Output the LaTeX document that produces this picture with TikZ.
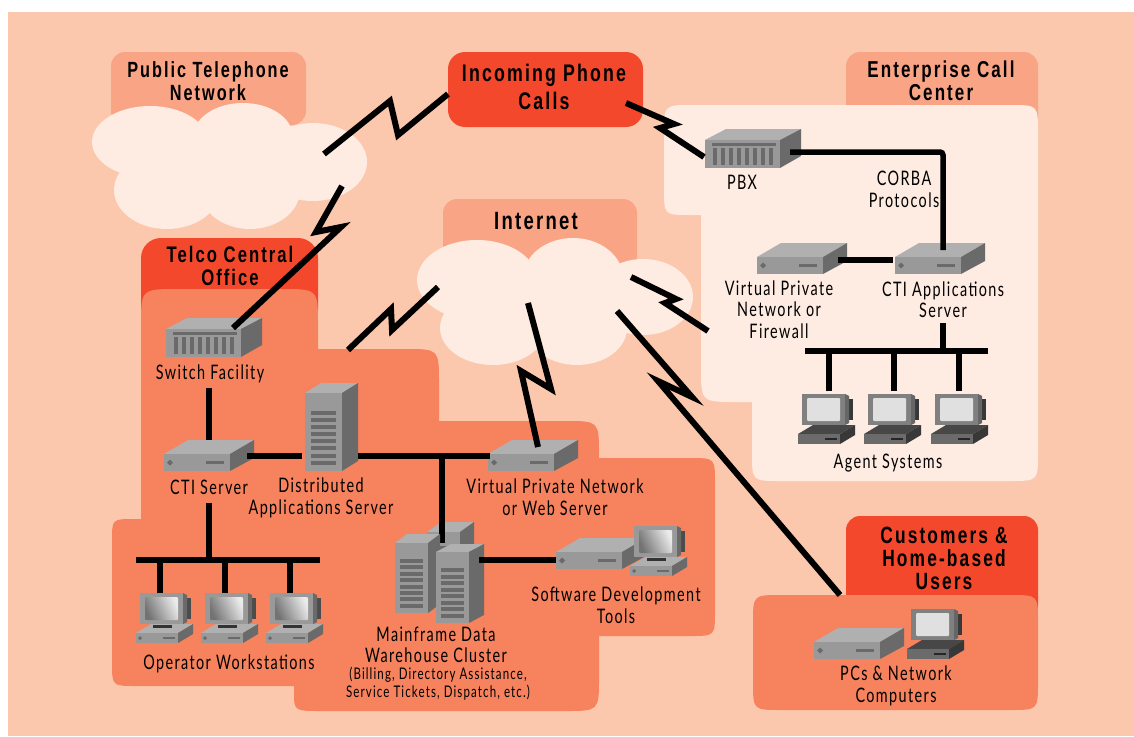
\documentclass[tikz,border=0pt]{standalone}
\usepackage{fontspec}
\setmainfont{Lato}
\newfontfamily\lblfont[FakeStretch=0.72,LetterSpace=7]{Lato}
\newfontfamily\ttlfont[FakeStretch=0.74,LetterSpace=9]{Liberation Sans}
\definecolor{bgpeach}{HTML}{FBC8AE}
\definecolor{tabpeach}{HTML}{FAA486}
\definecolor{hotred}{HTML}{F4482C}
\definecolor{salmon}{HTML}{F6825E}
\definecolor{cloudc}{HTML}{FEEBE1}
\definecolor{gtop}{HTML}{B0B0B0}
\definecolor{gfront}{HTML}{999999}
\definecolor{gside}{HTML}{6A6A6A}
\newcommand\ttlsz[1]{\ttlfont\bfseries\fontsize{#1}{23}\selectfont}
\tikzset{
  lbl/.style={font=\lblfont\fontsize{20}{21.5}\selectfont,align=center,inner sep=0pt,text=black},
  sublbl/.style={font=\lblfont\fontsize{16}{18}\selectfont,align=center,inner sep=0pt,text=black},
  ttl/.style={align=center,inner sep=0pt,text=black},
  wire/.style={line width=5.5pt,draw=black,line cap=butt,miter limit=20},
  bolt/.style={line width=6pt,draw=black,line join=miter,miter limit=20},
  devbox/.style={inner sep=0pt,outer sep=0pt,rectangle},
}
% server: name, x, y (top-left of front face)
\newcommand\srvbox[3]{\begin{scope}[shift={(#2,#3)}]
  \fill[gtop] (0,0)--(24,-14)--(90,-14)--(66,0)--cycle;
  \fill[gfront] (0,0) rectangle (66,17);
  \fill[gside] (66,0)--(90,-14)--(90,4)--(66,17)--cycle;
  \fill[gside] (6,5.5)--(9,8.5)--(6,11.5)--(3,8.5)--cycle;
  \fill[gside] (42,7) rectangle (60,10);
  \node[devbox,minimum width=90pt,minimum height=31pt] (#1) at (45,1.5) {};
\end{scope}}
% pbx
\newcommand\pbxbox[3]{\begin{scope}[shift={(#2,#3)}]
  \fill[gtop] (0,0)--(21,-11)--(96,-11)--(75,0)--cycle;
  \fill[gfront] (0,0) rectangle (75,28);
  \fill[gside] (75,0)--(96,-11)--(96,16)--(75,28)--cycle;
  \fill[gside] (7,2.5) rectangle (71,5.5);
  \foreach \i in {0,...,7} {\fill[gside] ({7.5+8.1*\i},8) rectangle ({11.5+8.1*\i},25);}
  \node[devbox,minimum width=96pt,minimum height=39pt] (#1) at (48,8.5) {};
\end{scope}}
% tower: name,x,y,w,h,dx,dy
\newcommand\twrbox[7]{\begin{scope}[shift={(#2,#3)}]
  \fill[gtop] (0,0)--(#6,-#7)--({#4+#6},-#7)--(#4,0)--cycle;
  \fill[gfront] (0,0) rectangle (#4,#5);
  \fill[gside] (#4,0)--({#4+#6},-#7)--({#4+#6},{#5-#7})--(#4,#5)--cycle;
  \foreach \i in {0,...,7} {\fill[gside] ({0.15*#4},{0.225*#5+0.092*#5*\i}) rectangle ({0.85*#4},{0.225*#5+0.092*#5*\i+4});}
  \node[devbox,minimum width={(#4+#6)*1pt},minimum height={(#5+#7)*1pt}] (#1) at ({(#4+#6)/2},{(#5-#7)/2}) {};
\end{scope}}
% light workstation
\newcommand\lightpc[3]{\begin{scope}[shift={(#2,#3)}]
  \fill[gtop] (-4,40)--(11,31)--(53,31)--(38,40)--cycle;
  \fill[gfront] (-4,40) rectangle (38,50);
  \fill[gside] (38,40)--(53,31)--(53,41)--(38,50)--cycle;
  \fill[gside] (0,43)--(2,45)--(0,47)--(-2,45)--cycle;
  \fill[gside] (23,44) rectangle (35,46);
  \fill[black!80] (13,32) rectangle (32,35);
  \fill[black!70] (47,5) rectangle (50.5,26);
  \fill[gside] (43,0)--(47,2)--(47,29)--(43,31)--cycle;
  \fill[gfront] (0,0) rectangle (43,31);
  \shade[left color=black!55,right color=black!8,rounded corners=1pt,shading angle=115] (5,4) rectangle (38,27);
  \node[devbox,minimum width=57pt,minimum height=50pt] (#1) at (24.5,25) {};
\end{scope}}
% dark workstation
\newcommand\darkpc[3]{\begin{scope}[shift={(#2,#3)}]
  \fill[black!72] (-4,40)--(11,31)--(53,31)--(38,40)--cycle;
  \fill[black!58] (-4,40) rectangle (38,50);
  \fill[black!78] (38,40)--(53,31)--(53,41)--(38,50)--cycle;
  \fill[black!85] (23,44) rectangle (35,46);
  \fill[black!72] (13,32) rectangle (32,35);
  \fill[black!78] (47,5) rectangle (50.5,26);
  \fill[black!60] (43,0)--(47,2)--(47,29)--(43,31)--cycle;
  \fill[black!50] (0,0) rectangle (43,31);
  \fill[black!12,rounded corners=1pt] (5,4) rectangle (38,27);
  \node[devbox,minimum width=57pt,minimum height=50pt] (#1) at (24.5,25) {};
\end{scope}}
\begin{document}
\begin{tikzpicture}[x=1pt,y=-1pt]
\useasboundingbox (0,0) rectangle (1134,736);
\fill[white] (0,0) rectangle (1134,736);
\fill[bgpeach] (8,12) rectangle (1134,736);

% tabs
\fill[tabpeach,rounded corners=14pt] (111,52) rectangle (306,125);
\fill[tabpeach,rounded corners=14pt] (443,199) rectangle (637,270);
\fill[tabpeach,rounded corners=14pt] (846,52) rectangle (1038,130);
\fill[hotred,rounded corners=20pt] (141,238) rectangle (318,330);
\fill[hotred,rounded corners=14pt] (846,516) rectangle (1038,620);

% clouds
\foreach \cx/\cy/\rx/\ry in {150/142/58/36,243/137/50/34,313/162/54/39,167/190/53/39,250/190/50/39,
  477/280/60/40,573/278/50/40,643/297/50/38,493/328/53/37,577/328/50/37}
  {\fill[cloudc] (\cx,\cy) ellipse [x radius=\rx,y radius=\ry];}
\fill[cloudc] (150,140) rectangle (300,195);
\fill[cloudc] (480,280) rectangle (620,330);

% enterprise region
\fill[cloudc] (664,133) .. controls (664,105) .. (692,105) -- (1010,105)
  .. controls (1038,105) .. (1038,133) -- (1038,453) .. controls (1038,481) .. (1010,481)
  -- (780,481) .. controls (752,481) .. (752,453) -- (752,402) -- (736,402)
  .. controls (701,402) .. (701,367) -- (701,215) -- (690,215)
  .. controls (664,215) .. (664,189) -- cycle;

% telco region
\fill[salmon] (141,326) .. controls (141,289) .. (178,289) -- (281,289)
  .. controls (318,289) .. (318,326) -- (318,349) -- (405,349)
  .. controls (439,349) .. (439,383) -- (439,421) -- (565,421)
  .. controls (599,421) .. (599,455) -- (599,458) -- (690,458)
  .. controls (715,458) .. (715,483) -- (715,611) .. controls (715,636) .. (690,636)
  -- (599,636) -- (599,677) .. controls (599,711) .. (565,711)
  -- (322,711) .. controls (294,711) .. (294,692) -- (294,686) -- (136,686)
  .. controls (112,686) .. (112,662) -- (112,541) .. controls (112,519) .. (134,519)
  -- (141,519) -- cycle;

% customers region
\fill[salmon] (753,623) .. controls (753,595) .. (781,595) -- (1010,595)
  .. controls (1038,595) .. (1038,623) -- (1038,682) .. controls (1038,710) .. (1010,710)
  -- (781,710) .. controls (753,710) .. (753,682) -- cycle;

% incoming
\node[fill=hotred,rounded corners=17pt,minimum width=195pt,minimum height=75pt,ttl,font=\ttlsz{24}] (incoming) at (545.5,89.5) {};
\node[ttl,font=\ttlsz{24}] (tincoming) at (544,87) {Incoming Phone\\[5pt]Calls};

% titles
\node[ttl,font=\ttlsz{22}] (tpublic) at (208,81.5) {Public Telephone\\Network};
\node[ttl,font=\ttlsz{23}] (tenter) at (941,80.5) {Enterprise Call\\Center};
\node[ttl,font=\ttlsz{22.5}] (ttelco) at (230,265.5) {Telco Central\\Office};
\node[ttl,font=\ttlsz{25}] (tnet) at (536,221) {Internet};
\node[ttl,font=\ttlsz{23.5}] (tcust) at (944,558) {Customers \&\\Home-based\\Users};

% devices
\pbxbox{sw}{166}{329}
\pbxbox{pbx}{705}{140}
\srvbox{cti}{164}{454}
\srvbox{fw}{757}{257}
\srvbox{ctiapp}{895}{257}
\srvbox{vpnweb}{488}{454}
\twrbox{das}{305}{393}{37}{78}{16}{10}
\twrbox{mfback}{427}{532}{33}{60}{14}{10}
\lightpc{op1}{140}{593}
\lightpc{op2}{205}{593}
\lightpc{op3}{270}{593}
\darkpc{ag1}{802}{394}
\darkpc{ag2}{868}{394}
\darkpc{ag3}{935}{394}
\coordinate (mfdrop) at (442,456);
\coordinate (mftop) at (442,543);
\draw[wire] (mfdrop) -- (mftop);
\twrbox{mfleft}{395}{543}{33}{70}{12}{9}
\twrbox{mfright}{436}{552}{33}{71}{15}{8}
\srvbox{dev}{556}{552}
\lightpc{devpc}{634}{526}
\srvbox{pc}{814}{642}
\darkpc{pcws}{911}{609}

% labels
\node[lbl] (lsw) at (210,373.5) {Switch Facility};
\node[lbl] (lpbx) at (742,182) {PBX};
\node[lbl] (lcorba) at (904,189.5) {CORBA\\Protocols};
\node[lbl] (lfw) at (779,309.5) {Virtual Private\\Network or\\Firewall};
\node[lbl] (lctiapp) at (943,299.5) {CTI Applications\\Server};
\node[lbl] (lag) at (888,463.5) {Agent Systems};
\node[lbl] (lcti) at (209,487) {CTI Server};
\node[lbl] (ldas) at (321,498) {Distributed\\Applications Server};
\node[lbl] (lvpn) at (555,497) {Virtual Private Network\\or Web Server};
\node[lbl] (ldev) at (616,605) {Software Development\\Tools};
\node[lbl] (lmf) at (436,645) {Mainframe Data\\Warehouse Cluster};
\node[sublbl] (lmfsub) at (438,683.5) {(Billing, Directory Assistance,\\Service Tickets, Dispatch, etc.)};
\node[lbl] (lop) at (229,663.5) {Operator Workstations};
\node[lbl] (lpc) at (896,686) {PCs \& Network\\Computers};

% junction and free-end coordinates
\coordinate (swdn) at (209,388);
\coordinate (ctidn) at (209,503);
\coordinate (opbusw) at (136,560);
\coordinate (opbuse) at (320,560);
\coordinate (agbusw) at (805,351);
\coordinate (agbuse) at (988,351);
\coordinate (appdn) at (943,323);
\coordinate (pbxr) at (790,152);
\coordinate (pbxc) at (943,152);
\coordinate (appin) at (943,250);
\coordinate (ctir) at (247,456);
\coordinate (dasl) at (302,456);
\coordinate (dasr) at (358,456);
\coordinate (vpnl) at (490,456);
\coordinate (mfr) at (479,560);
\coordinate (devl) at (556,560);
\coordinate (fwr) at (838,260);
\coordinate (appl) at (893,260);

% wired links
\draw[wire] (swdn) -- (cti.north -| swdn);
\draw[wire] (ctir) -- (dasl);
\draw[wire] (dasr) -- (vpnl);
\draw[wire] (ctidn) -- (ctidn |- opbusw);
\draw[wire] (opbusw) -- (opbuse);
\foreach \n/\x in {op1/160,op2/225,op3/290} \draw[wire] (\x,560) -- (\x,593);
\draw[wire] (mfr) -- (devl);
\draw[wire,rounded corners=3pt] (pbxr) -- (pbxc) -- (appin);
\draw[wire] (fwr) -- (appl);
\draw[wire] (appdn) -- (appdn |- agbusw);
\draw[wire] (agbusw) -- (agbuse);
\foreach \n/\x in {ag1/829,ag2/894,ag3/959} \draw[wire] (\x,351) -- (\x,391);

% lightning links
\coordinate (a1) at (324,154); \coordinate (a2) at (390,101); \coordinate (a3) at (398,135); \coordinate (a4) at (448,94);
\draw[bolt] (a1) -- (a2) -- (a3) -- (a4);
\coordinate (b1) at (626,103); \coordinate (b2) at (674,124); \coordinate (b3) at (660,128); \coordinate (b4) at (704,157);
\draw[bolt] (b1) -- (b2) -- (b3) -- (b4);
\coordinate (c1) at (342,186); \coordinate (c2) at (316,232); \coordinate (c3) at (341,227); \coordinate (c4) at (233,328);
\draw[bolt] (c1) -- (c2) -- (c3) -- (c4);
\coordinate (d1) at (438,287); \coordinate (d2) at (392,330); \coordinate (d3) at (391,309); \coordinate (d4) at (348,350);
\draw[bolt] (d1) -- (d2) -- (d3) -- (d4);
\coordinate (e1) at (528,303); \coordinate (e2) at (551,389); \coordinate (e3) at (521,371); \coordinate (e4) at (538,447);
\draw[bolt] (e1) -- (e2) -- (e3) -- (e4);
\coordinate (f1) at (631,277); \coordinate (f2) at (676,299); \coordinate (f3) at (665,303); \coordinate (f4) at (708,331);
\draw[bolt] (f1) -- (f2) -- (f3) -- (f4);
\coordinate (g1) at (617,311); \coordinate (g2) at (692,397); \coordinate (g3) at (658,381); \coordinate (g4) at (840,595);
\draw[bolt] (g1) -- (g2) -- (g3) -- (g4);
\end{tikzpicture}
\end{document}
